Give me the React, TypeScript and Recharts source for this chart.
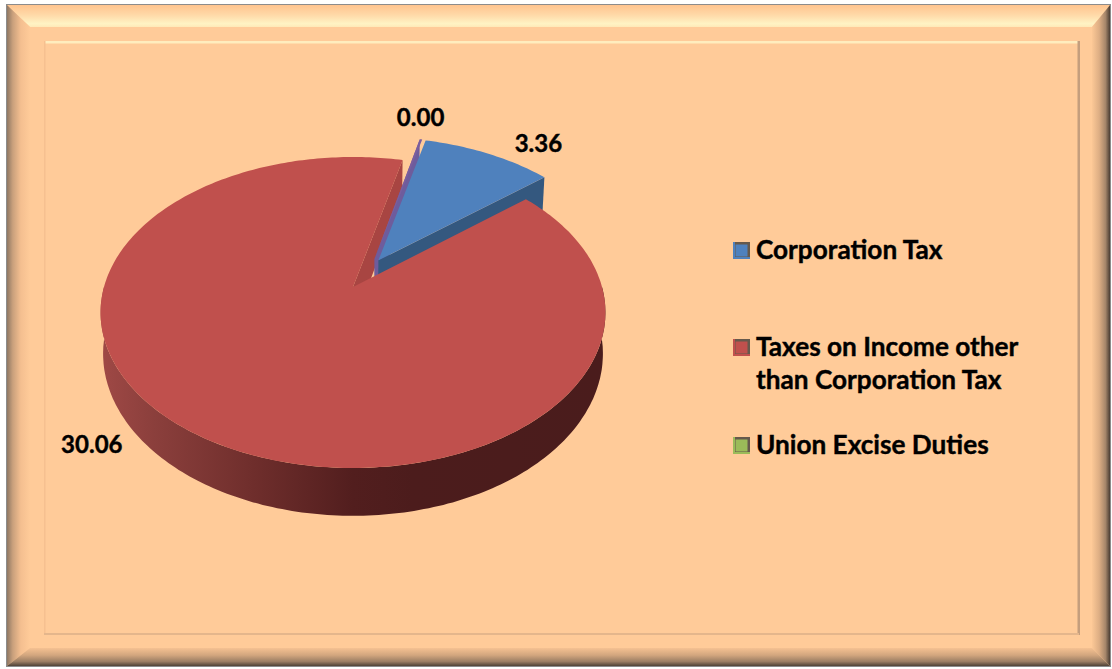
import React from "react";
import { PieChart, Pie, Legend } from "recharts";

const categories = ["", "Corporation Tax", "Taxes on Income other than Corporation Tax", "Union Excise Duties"];
const values = [0.06, 3.36, 30.06, 0.0];
const valueLabels = ["", "3.36", "30.06", "0.00"];
const legendNames = [
  ["Corporation Tax"],
  ["Taxes on Income other", "than Corporation Tax"],
  ["Union Excise Duties"],
];
const legendColors = ["#4F81BD", "#C0504D", "#9BBB59"];

const rows = categories.map((name, i) => ({ name, value: values[i], text: valueLabels[i], idx: i }));

const W = 1112;
const H = 669;
const FONT = "Lato, Carlito, sans-serif";
const K = 0.164; // perspective strength
const SQUASH = 0.6076; // vertical foreshortening
const DEPTH = 40; // wall height
const EXPLODE: Record<number, { e: number; dir: number }> = {
  0: { e: 0.21, dir: 25 },
  1: { e: 0.21, dir: 30 },
};
const LABEL_SHIFT: Record<number, [number, number]> = {
  1: [50, -11],
  2: [-109, 7],
  3: [18, -44],
};
const TOP: Record<number, string> = { 0: "#7B5E9E", 1: "#4F81BD", 2: "#C0504D" };
const WALL: Record<number, string> = { 0: "#6E5C9C", 1: "#34587F" };

type Pt = [number, number, number];
const rad = (d: number) => (d * Math.PI) / 180;

function project(cx: number, cy: number, R: number, thetaDeg: number, r: number, idx: number): Pt {
  const ex = EXPLODE[idx];
  const ou = ex ? ex.e * Math.sin(rad(ex.dir)) : 0;
  const ov = ex ? ex.e * Math.cos(rad(ex.dir)) : 0;
  const u = r * Math.sin(rad(thetaDeg)) + ou;
  const v = r * Math.cos(rad(thetaDeg)) + ov;
  const s = 1 / (1 + K * v);
  return [cx + R * u * s, cy - R * SQUASH * v * s, s];
}
const drop = (p: Pt, cx: number): [number, number] => [cx + (p[0] - cx) * 0.99, p[1] + DEPTH * p[2]];
const toPath = (pts: number[][]) =>
  "M" + pts.map((p) => `${p[0].toFixed(1)},${p[1].toFixed(1)}`).join("L") + "Z";

function arc(cx: number, cy: number, R: number, a: number, b: number, idx: number): Pt[] {
  const pts: Pt[] = [];
  const n = Math.max(2, Math.ceil(Math.abs(b - a)));
  for (let i = 0; i <= n; i++) pts.push(project(cx, cy, R, a + ((b - a) * i) / n, 1, idx));
  return pts;
}

// Red rim and the cut wall behind the exploded wedges
const WallLayer = (props: any) => {
  const { cx, cy, outerRadius: R, endAngle, payload } = props;
  const idx = payload?.idx ?? props.idx;
  if (idx !== 2) return null;
  const t2 = 90 - endAngle;
  const apex = project(cx, cy, R, 0, 0, idx);
  const rim = project(cx, cy, R, t2, 1, idx);
  const front = arc(cx, cy, R, 90, 270, idx);
  const lower = front.map((p) => drop(p, cx)).reverse();
  return (
    <g>
      <defs>
        <linearGradient id="rimGrad" gradientUnits="userSpaceOnUse" x1={cx - R} x2={cx + R} y1="0" y2="0">
          <stop offset="0" stopColor="#9E4845" />
          <stop offset="0.1" stopColor="#8B3F3C" />
          <stop offset="0.3" stopColor="#6F2E2C" />
          <stop offset="0.5" stopColor="#521E1E" />
          <stop offset="0.62" stopColor="#4C1C1C" />
          <stop offset="1" stopColor="#4A1C1C" />
        </linearGradient>
      </defs>
      <path d={toPath([...front, ...lower])} fill="url(#rimGrad)" />
      <path d={toPath([apex, rim, drop(rim, cx), drop(apex, cx)])} fill="#A84542" />
    </g>
  );
};

// Exploded wedges and all top faces
const TopLayer = (props: any) => {
  const { cx, cy, outerRadius: R, startAngle, endAngle, payload } = props;
  const idx = payload?.idx ?? props.idx;
  if (!TOP[idx]) return null;
  const t1 = 90 - startAngle;
  const t2 = 90 - endAngle;
  const apex = project(cx, cy, R, 0, 0, idx);
  const edge = arc(cx, cy, R, t1, t2, idx);
  const top = toPath([apex, ...edge]);
  if (idx === 2) return <path d={top} fill={TOP[idx]} />;
  const wallEnd = idx === 0 ? edge[0] : edge[edge.length - 1];
  const wall = toPath([apex, wallEnd, drop(wallEnd, cx), drop(apex, cx)]);
  return (
    <g>
      <path d={wall} fill={WALL[idx]} />
      <path d={top} fill={TOP[idx]} />
    </g>
  );
};

const valueLabel = (props: any) => {
  const { cx, cy, outerRadius: R, midAngle, payload, index } = props;
  const idx = payload?.idx ?? index;
  const shift = LABEL_SHIFT[idx];
  if (!shift) return null;
  const p = project(cx, cy, R, 90 - midAngle, 1, idx);
  return (
    <text
      x={p[0] + shift[0]}
      y={p[1] + shift[1]}
      textAnchor="middle"
      dominantBaseline="central"
      fontFamily={FONT}
      fontWeight={700}
      fontSize={24}
      fill="#000"
      stroke="#000"
      strokeWidth={0.4}
    >
      {rows[idx].text}
    </text>
  );
};

const LEGEND_TOP = [234, 331, 429];
const LegendBox = () => (
  <div
    style={{
      position: "relative",
      width: 340,
      height: 240,
      fontFamily: FONT,
      fontWeight: 700,
      fontSize: 26.2,
      color: "#000",
      WebkitTextStroke: "0.4px #000",
    }}
  >
    {legendNames.map((lines, i) => (
      <div key={i} style={{ position: "absolute", top: LEGEND_TOP[i] - 234, left: 0, lineHeight: "33px" }}>
        <svg width={18} height={18} style={{ position: "absolute", left: 0, top: 8 }}>
          <rect x={0} y={0} width={17} height={17} fill="#333" opacity={0.75} />
          <rect x={0} y={15} width={17} height={2} fill={legendColors[i]} />
          <rect x={0} y={0} width={2} height={15} fill={legendColors[i]} />
          <rect x={2.5} y={2.5} width={12} height={12} fill={legendColors[i]} />
        </svg>
        <div style={{ marginLeft: 23, marginTop: -1, whiteSpace: "nowrap" }}>
          {lines.map((l) => (
            <div key={l}>{l}</div>
          ))}
        </div>
      </div>
    ))}
  </div>
);

const Frame = () => {
  const L = 7, T = 5, R = 1110, B = 666;
  const L2 = 30, T2 = 27, R2 = 1092, B2 = 648;
  const L3 = 44, T3 = 41, R3 = 1079, B3 = 634;
  return (
    <svg width={W} height={H} style={{ position: "absolute", left: 0, top: 0 }}>
      <defs>
        <linearGradient id="fLeft" x1="0" x2="1" y1="0" y2="0">
          <stop offset="0" stopColor="#8E7763" />
          <stop offset="0.25" stopColor="#C9A07C" />
          <stop offset="0.6" stopColor="#F4BF90" />
          <stop offset="1" stopColor="#FFCB99" />
        </linearGradient>
        <linearGradient id="fTop" x1="0" x2="0" y1="0" y2="1">
          <stop offset="0" stopColor="#FFC48F" />
          <stop offset="0.45" stopColor="#FFD9A8" />
          <stop offset="0.85" stopColor="#FFF3C4" />
          <stop offset="1" stopColor="#FFE9B8" />
        </linearGradient>
        <linearGradient id="fRight" x1="0" x2="1" y1="0" y2="0">
          <stop offset="0" stopColor="#FCC896" />
          <stop offset="0.4" stopColor="#DDAE84" />
          <stop offset="0.75" stopColor="#A5866A" />
          <stop offset="1" stopColor="#4A3D33" />
        </linearGradient>
        <linearGradient id="fBottom" x1="0" x2="0" y1="0" y2="1">
          <stop offset="0" stopColor="#F5C192" />
          <stop offset="0.4" stopColor="#D2A67E" />
          <stop offset="0.75" stopColor="#9C7E64" />
          <stop offset="1" stopColor="#4F4237" />
        </linearGradient>
      </defs>
      <rect x={L - 1} y={T - 1} width={R - L + 2} height={B - T + 2} fill="#8C8C8C" />
      <rect x={L} y={T} width={R - L} height={B - T} fill="#FFCB99" />
      <polygon points={`${L},${T} ${R},${T} ${R2},${T2} ${L2},${T2}`} fill="url(#fTop)" />
      <polygon points={`${L},${T} ${L2},${T2} ${L2},${B2} ${L},${B}`} fill="url(#fLeft)" />
      <polygon points={`${R},${T} ${R},${B} ${R2},${B2} ${R2},${T2}`} fill="url(#fRight)" />
      <polygon points={`${L},${B} ${R},${B} ${R2},${B2} ${L2},${B2}`} fill="url(#fBottom)" />
      <rect x={L3} y={T3} width={R3 - L3} height={2.5} fill="#FFEDBE" />
      <rect x={L3} y={T3} width={1.5} height={B3 - T3} fill="#F6C090" />
      <rect x={R3 - 1.5} y={T3} width={2.5} height={B3 - T3 + 1} fill="#C49E7D" />
      <rect x={L3} y={B3 - 1} width={R3 - L3} height={2} fill="#E4B68C" />
    </svg>
  );
};

export default function App() {
  return (
    <div style={{ position: "fixed", left: 0, top: 0, width: W, height: H, background: "#fff", overflow: "hidden" }}>
      <Frame />
      <div style={{ position: "absolute", left: 0, top: 0 }}>
        <PieChart width={W} height={H} margin={{ top: 0, right: 0, bottom: 0, left: 0 }}>
          <Pie
            data={rows}
            dataKey="value"
            nameKey="name"
            cx={353}
            cy={287}
            innerRadius={0}
            outerRadius={249}
            startAngle={76.65}
            endAngle={-283.35}
            stroke="none"
            labelLine={false}
            isAnimationActive={false}
            shape={WallLayer}
          />
          <Pie
            data={rows}
            dataKey="value"
            nameKey="name"
            cx={353}
            cy={287}
            innerRadius={0}
            outerRadius={249}
            startAngle={76.65}
            endAngle={-283.35}
            stroke="none"
            labelLine={false}
            label={valueLabel}
            isAnimationActive={false}
            shape={TopLayer}
          />
          <Legend
            layout="vertical"
            align="right"
            verticalAlign="top"
            content={<LegendBox />}
            wrapperStyle={{ position: "absolute", left: 733, top: 234, width: 340, height: 240 }}
          />
        </PieChart>
      </div>
    </div>
  );
}
